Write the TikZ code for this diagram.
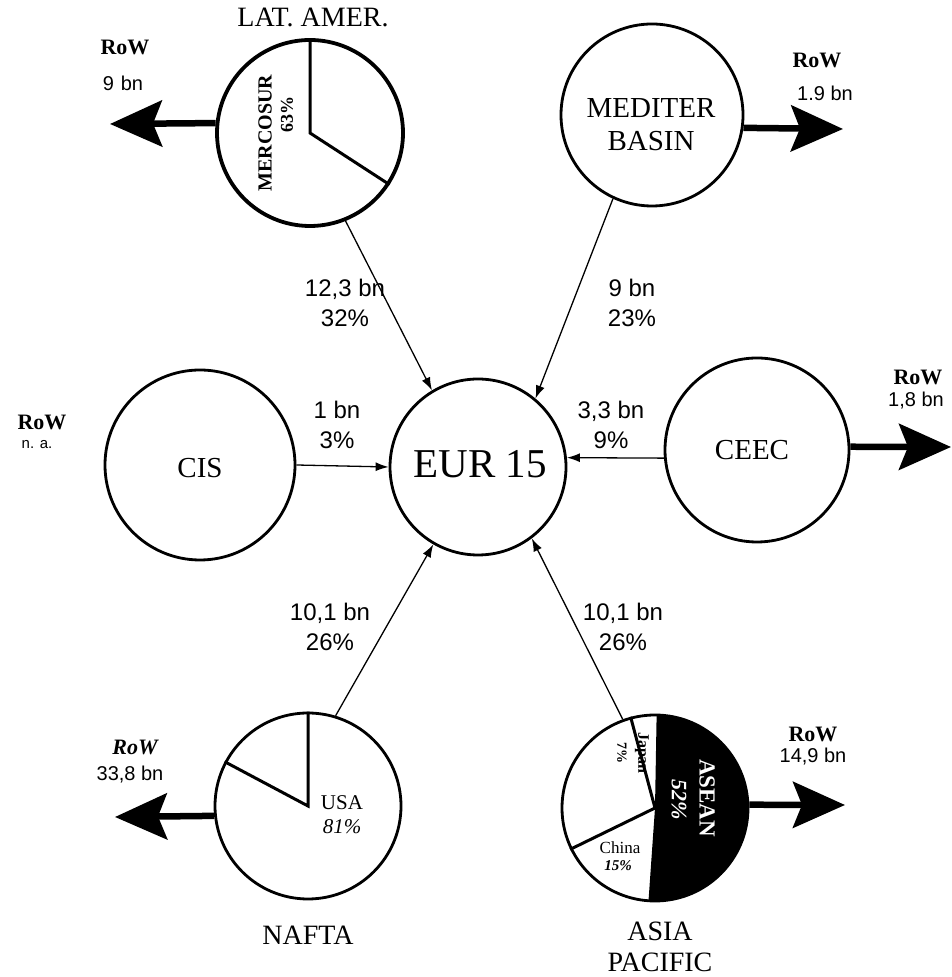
\documentclass[tikz,border=0pt]{standalone}
\usepackage{fontspec}
\setmainfont{Liberation Serif}
\newfontfamily\lsans{Liberation Sans}
\usetikzlibrary{arrows.meta,calc}
\begin{document}
\begin{tikzpicture}[x=1pt,y=1pt,
  region/.style={circle,draw,line width=2.8pt,inner sep=0pt},
  flow/.style={line width=1.3pt,-{Latex[length=13pt,width=9pt]}},
  rowarrow/.style={line width=6.5pt,-{Stealth[length=52pt,width=46pt,inset=9pt]}},
  reglab/.style={font=\fontsize{29}{33}\selectfont, align=center, inner sep=0pt},
  outlab/.style={font=\fontsize{28}{31}\selectfont, align=center, inner sep=0pt},
  numlab/.style={font=\lsans\fontsize{24}{30}\selectfont, align=center, inner sep=0pt},
  rowlab/.style={font=\bfseries\fontsize{22}{24}\selectfont, inner sep=0pt},
  rownum/.style={font=\lsans\fontsize{20}{22}\selectfont, inner sep=0pt},
  pieline/.style={line width=3pt},
  pietxt/.style={inner sep=0pt, align=center},
]
\useasboundingbox (0,0) rectangle (952,977);

% ASEAN black wedge
\fill (655,169) -- ++(-94:93) arc[start angle=-94, end angle=89, radius=93] -- cycle;

% region circles
\node[region, line width=3.8pt, minimum size=186pt] (lat) at (310,844) {};
\node[region, minimum size=182pt] (med) at (652,862) {};
\node[region, minimum size=190pt] (cis) at (200,512) {};
\node[region, minimum size=176pt] (eur) at (478,510) {};
\node[region, minimum size=184pt] (ceec) at (757,527) {};
\node[region, minimum size=186pt] (nafta) at (308,171) {};
\node[region, minimum size=186pt] (asia) at (655,169) {};

% pie lines
\draw[pieline] (lat.90) -- (lat.center) -- (lat.-33);
\draw[pieline] (nafta.90) -- (nafta.center) -- (nafta.152);
\draw[pieline] (asia.105) -- (asia.center) -- (asia.206);

% texts inside circles
\node[reglab] (medtxt) at (651,852) {MEDITER\\BASIN};
\node[reglab] (cistxt) at (200,509) {CIS};
\node[reglab] (ceectxt) at (752,527) {CEEC};
\node[font=\fontsize{41}{45}\selectfont, inner sep=0pt] (eurtxt) at (480,513) {EUR 15};

% pie texts
\node[pietxt, rotate=90, font=\bfseries\fontsize{20}{22}\selectfont] (merc) at (265,844) {MERCOSUR};
\node[pietxt, rotate=90, font=\bfseries\fontsize{18}{20}\selectfont] (merp) at (287,862) {63\%};
\node[pietxt, font=\fontsize{21}{24}\selectfont] (usa) at (342,174) {USA};
\node[pietxt, font=\itshape\fontsize{21}{24}\selectfont] (usap) at (342,150) {81\%};
\node[pietxt, rotate=-90, font=\bfseries\fontsize{16}{18}\selectfont] (jap) at (642,224) {Japan};
\node[pietxt, rotate=-90, font=\bfseries\fontsize{14}{16}\selectfont] (japp) at (622,224) {7\%};
\node[pietxt, rotate=-90, text=white, font=\bfseries\fontsize{23}{25}\selectfont] (asean) at (707,179) {ASEAN};
\node[pietxt, rotate=-90, text=white, font=\bfseries\itshape\fontsize{22}{24}\selectfont] (aseanp) at (679,177) {52\%};
\node[pietxt, font=\fontsize{17}{19}\selectfont] (china) at (620,129) {China};
\node[pietxt, font=\bfseries\itshape\fontsize{15}{17}\selectfont] (chinap) at (618,111) {15\%};

% outer labels
\node[outlab] (latlab) at (313,960) {LAT. AMER.};
\node[outlab] (naftalab) at (308,42) {NAFTA};
\node[outlab] (asialab) at (660,30) {ASIA\\PACIFIC};

% flows into EUR 15
\draw[flow] (lat.292.5) -- (eur.121);
\draw[flow] (med.245) -- (eur.50);
\draw[flow] (cis.0) -- (eur.180);
\draw[flow] (ceec.185) -- (eur.6);
\draw[flow] (nafta.73) -- (eur.240);
\draw[flow] (asia.110.6) -- (eur.307);

% flow labels
\node[numlab] (f1) at (345,674) {12,3 bn\\32\%};
\node[numlab] (f2) at (632,674) {9 bn\\23\%};
\node[numlab] (f3) at (337,552) {1 bn\\3\%};
\node[numlab] (f4) at (611,552) {3,3 bn\\9\%};
\node[numlab] (f5) at (330,350) {10,1 bn\\26\%};
\node[numlab] (f6) at (623,350) {10,1 bn\\26\%};

% RoW arrows
\coordinate (tlat) at (110,853);
\coordinate (tmed) at (843,848);
\coordinate (tceec) at (951,530);
\coordinate (tnafta) at (115,160);
\coordinate (tasia) at (845,172);
\draw[rowarrow] (lat.174) -- (tlat);
\draw[rowarrow] (med.-8) -- (tmed);
\draw[rowarrow] (ceec.2) -- (tceec);
\draw[rowarrow] (nafta.186) -- (tnafta);
\draw[rowarrow] (asia.2) -- (tasia);

% RoW labels
\node[rowlab] (r1) at (125,930) {RoW};
\node[rownum] (r1n) at (123,894) {9\,\,bn};
\node[rowlab] (r2) at (817,917) {RoW};
\node[rownum] (r2n) at (825,884) {1.9 bn};
\node[rowlab] (r3) at (918,600) {RoW};
\node[rownum] (r3n) at (916,576) {1,8 bn};
\node[rowlab] (r4) at (42,555) {RoW};
\node[font=\lsans\fontsize{15}{17}\selectfont, inner sep=0pt] (r4n) at (37,532) {n. a.};
\node[rowlab, font=\bfseries\itshape\fontsize{22}{24}\selectfont] (r5) at (135,230) {RoW};
\node[rownum] (r5n) at (130,202) {33,8 bn};
\node[rowlab] (r6) at (813,243) {RoW};
\node[rownum] (r6n) at (813,220) {14,9 bn};
\end{tikzpicture}
\end{document}
